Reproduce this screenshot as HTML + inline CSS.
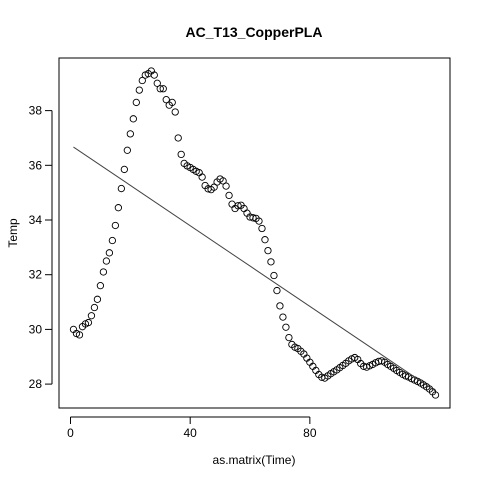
<!DOCTYPE html>
<html><head><meta charset="utf-8"><style>body{margin:0;background:#fff}svg{display:block;font-family:"Liberation Sans",Arial,sans-serif}</style></head>
<body>
<svg id="chart" width="480" height="480" viewBox="0 0 480 480">
<rect width="480" height="480" fill="#fff"/>
<text x="254" y="37" font-size="14" font-weight="bold" text-anchor="middle">AC_T13_CopperPLA</text>
<rect x="59" y="58" width="391" height="350" fill="none" stroke="#000"/>
<text x="254" y="464" font-size="12" text-anchor="middle">as.matrix(Time)</text>
<text transform="translate(17,233) rotate(-90)" font-size="12" text-anchor="middle">Temp</text>
<g id="axes"></g><g id="marks"></g>
</svg>
<script>
const temps=[30.0,29.85,29.8,30.1,30.2,30.25,30.5,30.8,31.1,31.6,32.1,32.5,32.8,33.25,33.8,34.45,35.15,35.85,36.55,37.15,37.7,38.3,38.75,39.1,39.3,39.35,39.45,39.3,39.0,38.8,38.8,38.4,38.2,38.3,37.95,37.0,
36.4,36.07,35.98,35.92,35.85,35.78,35.73,35.57,35.26,35.14,35.11,35.2,35.39,35.5,35.43,35.24,34.9,34.58,34.42,34.52,34.54,34.42,34.25,34.11,34.08,34.06,33.96,33.69,33.28,32.88,32.47,31.97,31.42,30.86,30.45,30.08,29.7,29.45,
29.35,29.3,29.2,29.1,28.95,28.8,28.65,28.5,28.35,28.25,28.22,
28.3,28.38,28.45,28.52,28.6,28.68,28.76,28.85,28.92,28.97,
28.9,28.75,28.65,28.62,
28.67,28.72,28.78,28.83,28.85,
28.8,28.72,28.65,28.58,28.5,28.43,28.36,28.3,28.26,28.2,28.15,28.1,28.04,27.97,27.9,27.82,27.72,27.6];
const xTicks=[0,40,80];
const yTicks=[28,30,32,34,36,38];
const NS="http://www.w3.org/2000/svg";
const n=temps.length;
const xmin=1-0.04*(n-1),xmax=n+0.04*(n-1);
const lo=Math.min(...temps),hi=Math.max(...temps),ymin=lo-0.04*(hi-lo),ymax=hi+0.04*(hi-lo);
const X=v=>59+(v-xmin)/(xmax-xmin)*391;
const Y=v=>408-(v-ymin)/(ymax-ymin)*350;
function mk(t,a,p){const e=document.createElementNS(NS,t);for(const k in a)e.setAttribute(k,a[k]);p.appendChild(e);return e;}
const ax=document.getElementById('axes'),mk2=document.getElementById('marks');
mk('line',{x1:X(xTicks[0]),x2:X(xTicks[xTicks.length-1]),y1:417,y2:417,stroke:'#000'},ax);
xTicks.forEach(t=>{mk('line',{x1:X(t),x2:X(t),y1:417,y2:424,stroke:'#000'},ax);
const l=mk('text',{x:X(t),y:437,'font-size':12,'text-anchor':'middle'},ax);l.textContent=t;

});
mk('line',{x1:52,x2:52,y1:Y(yTicks[0]),y2:Y(yTicks[yTicks.length-1]),stroke:'#000'},ax);
yTicks.forEach(t=>{mk('line',{x1:45,x2:52,y1:Y(t),y2:Y(t),stroke:'#000'},ax);
const l=mk('text',{x:42,y:Y(t)+4,'font-size':12,'text-anchor':'end'},ax);l.textContent=t;

});
temps.forEach((v,i)=>{const c=mk('circle',{cx:X(i+1),cy:Y(v),r:3.2,fill:'none',stroke:'#000','stroke-width':0.9},mk2);

});
let sx=0,sy=0,sxx=0,sxy=0;temps.forEach((v,i)=>{const x=i+1;sx+=x;sy+=v;sxx+=x*x;sxy+=x*v;});
const b=(n*sxy-sx*sy)/(n*sxx-sx*sx),a=(sy-b*sx)/n;
const rl=mk('line',{x1:X(1),y1:Y(a+b),x2:X(n),y2:Y(a+b*n),stroke:'#444','stroke-width':1},mk2);


</script>
</body></html>
